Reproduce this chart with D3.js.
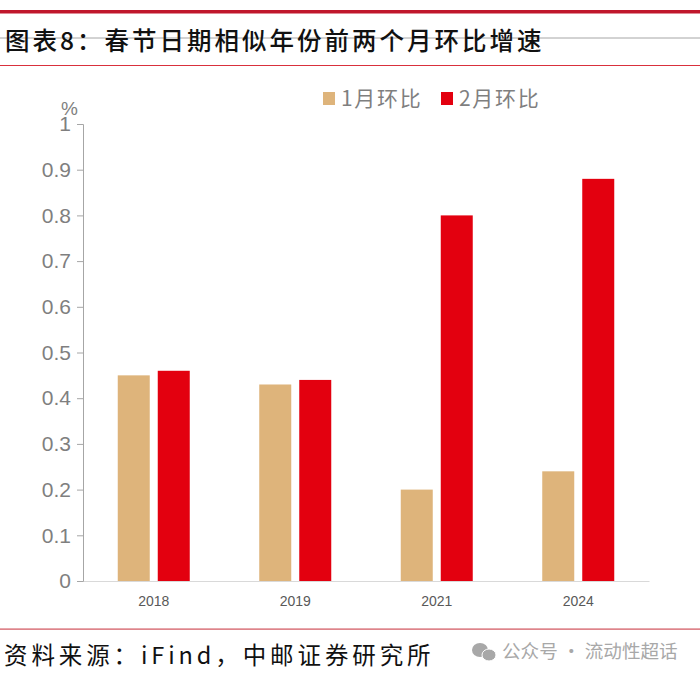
<!DOCTYPE html>
<html>
<head>
<meta charset="utf-8">
<script src="https://cdnjs.cloudflare.com/ajax/libs/d3/7.8.5/d3.min.js"></script>
<style>
body { margin: 0; background: #fff; }
svg { display: block; font-family: "Noto Sans CJK SC", sans-serif; }
.y.axis .domain, .y.axis line { stroke: #a6a6a6; }
.x.axis .domain { stroke: #d9d9d9; }
.y.axis text { font-family: "Liberation Sans", sans-serif; font-size: 21px; fill: #7f7f7f; }
.x.axis text { font-family: "Liberation Sans", sans-serif; font-size: 14px; fill: #595959; }
</style>
</head>
<body>
<svg id="chart" width="700" height="679"></svg>
<script>
const categories = ["2018", "2019", "2021", "2024"];
const seriesNames = ["1月环比", "2月环比"];
const janValues = [0.45, 0.43, 0.2, 0.24];
const febValues = [0.46, 0.44, 0.8, 0.88];
const yTicks = [0, 0.1, 0.2, 0.3, 0.4, 0.5, 0.6, 0.7, 0.8, 0.9, 1];
const colors = ["#deb47b", "#e3000f"];

const titleText = "图表8：春节日期相似年份前两个月环比增速";
const sourceText = "资料来源：iFind，中邮证券研究所";
const watermarkText = "公众号 · 流动性超话";

const svg = d3.select("#chart");
const margin = { top: 124, bottom: 98, right: 51, left: 83 };
const width = 700 - margin.left - margin.right;
const height = 679 - margin.top - margin.bottom;

// header rules
svg.append("rect").attr("x", 0).attr("y", 10).attr("width", 700).attr("height", 3.5).attr("fill", "#c0172c");
svg.append("line").attr("x1", 0).attr("x2", 700).attr("y1", 38).attr("y2", 38).attr("stroke", "#a6a6a6").attr("stroke-width", 1);
svg.append("rect").attr("x", 0).attr("y", 65).attr("width", 700).attr("height", 1).attr("fill", "#d9303c");
svg.append("rect").attr("x", 0).attr("y", 628.5).attr("width", 700).attr("height", 1.2).attr("fill", "#d0505a");

svg.append("text")
    .attr("x", 5).attr("y", 50)
    .attr("font-size", 24.5)
    .attr("font-weight", 500)
    .attr("letter-spacing", 3)
    .attr("fill", "#111")
    .text(titleText);

const chart = svg.append("g")
    .attr("transform", `translate(${margin.left},${margin.top})`);

const xScale = d3.scaleBand().domain(categories).range([0, width]);
const yScale = d3.scaleLinear().domain([0, 1]).range([height, 0]);

const xAxis = d3.axisBottom(xScale).tickSize(0).tickPadding(15);
const yAxis = d3.axisLeft(yScale).tickValues(yTicks).tickFormat(d3.format("~g")).tickSize(6).tickPadding(6);

chart.append("g").attr("class", "x axis").attr("transform", `translate(0,${height})`).call(xAxis);
chart.append("g").attr("class", "y axis").call(yAxis);

// bars, grouped around each band centre
const barWidth = 32;
const barGap = 8;
[janValues, febValues].forEach((values, i) => {
    chart.append("g").selectAll("rect")
        .data(values)
        .join("rect")
        .attr("x", (d, j) => xScale(categories[j]) + xScale.bandwidth() / 2 + (i === 0 ? -barWidth - barGap / 2 : barGap / 2))
        .attr("y", d => yScale(d))
        .attr("width", barWidth)
        .attr("height", d => yScale(0) - yScale(d))
        .attr("fill", colors[i]);
});

// unit label
svg.append("text")
    .attr("x", 61).attr("y", 115)
    .attr("font-family", "Liberation Sans, sans-serif")
    .attr("font-size", 19)
    .attr("fill", "#7f7f7f")
    .text("%");

// legend
const legendX = [323, 441];
seriesNames.forEach((name, i) => {
    svg.append("rect")
        .attr("x", legendX[i]).attr("y", 92)
        .attr("width", 12).attr("height", 13)
        .attr("fill", colors[i]);
    svg.append("text")
        .attr("x", legendX[i] + 18).attr("y", 106)
        .attr("font-size", 21)
        .attr("letter-spacing", 1.7)
        .attr("fill", "#7f7f7f")
        .text(name);
});

// footer
svg.append("text")
    .attr("x", 4).attr("y", 664)
    .attr("font-size", 23.5)
    .attr("letter-spacing", 3.9)
    .attr("fill", "#111")
    .text(sourceText);

// watermark
const icon = svg.append("g").attr("fill", "#a8a8a8");
icon.append("ellipse").attr("cx", 480).attr("cy", 650).attr("rx", 8).attr("ry", 7);
icon.append("ellipse").attr("cx", 489).attr("cy", 655).attr("rx", 7).attr("ry", 6).attr("stroke", "#fff").attr("stroke-width", 1);
svg.append("text")
    .attr("x", 502).attr("y", 658)
    .attr("font-size", 18.6)
    .attr("fill", "#a8a8a8")
    .text(watermarkText);
</script>
</body>
</html>
